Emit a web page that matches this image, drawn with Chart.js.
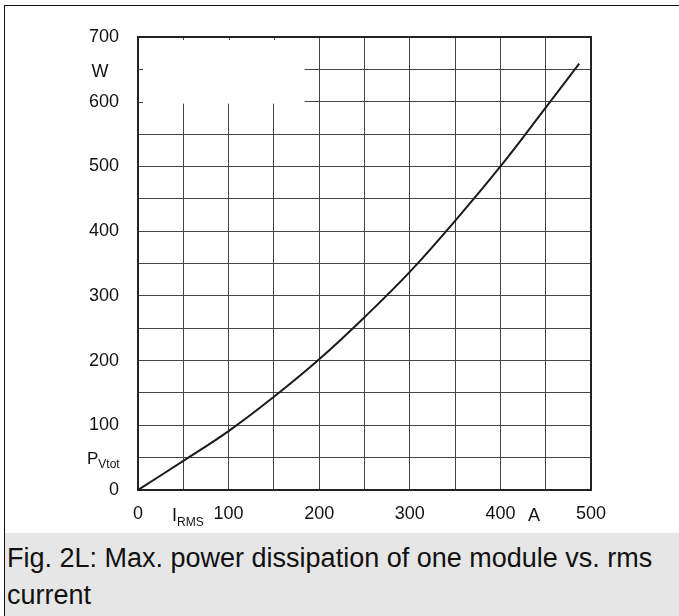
<!DOCTYPE html>
<html>
<head>
<meta charset="utf-8">
<script src="https://cdn.jsdelivr.net/npm/chart.js@4/dist/chart.umd.min.js"></script>
<style>
  html, body { margin: 0; padding: 0; background: #fff; }
  #wrap { position: relative; width: 679px; height: 616px; overflow: hidden; background: #fff; }
  #c { position: absolute; left: 0; top: 0; }
  #frameTop { position: absolute; left: 4px; top: 5px; width: 675px; height: 1px; background: #111; }
  #frameLeft { position: absolute; left: 4px; top: 5px; width: 1px; height: 611px; background: #111; }
  #caption { position: absolute; left: 5px; top: 533px; width: 674px; height: 83px; background: #e6e6e6;
    font-family: "Liberation Sans", Arial, sans-serif; font-size: 27px; line-height: 37px; color: #111;
    box-sizing: border-box; padding: 7px 0 0 2px; white-space: nowrap; }
</style>
</head>
<body>
<div id="wrap">
  <canvas id="c" width="679" height="616"></canvas>
  <div id="frameTop"></div>
  <div id="frameLeft"></div>
  <div id="caption">Fig. 2L: Max. power dissipation of one module vs. rms<br>current</div>
</div>
<script>
// ---- data ----
const currentA = [0, 50, 100, 150, 200, 250, 300, 350, 400, 450, 487];
const powerW   = [0, 45, 91, 144, 202, 267, 337, 416, 500, 591, 659];
const xTickLabels = [0, 100, 200, 300, 400, 500];
const yTickLabels = [0, 100, 200, 300, 400, 500, 600, 700];
const xName = ['I', 'RMS'];
const xUnit = 'A';
const yName = ['P', 'Vtot'];
const yUnit = 'W';

const FONT = '"Liberation Sans", Arial, sans-serif';
Chart.defaults.font.family = FONT;
Chart.defaults.font.size = 18;
Chart.defaults.color = '#111';

const decor = {
  id: 'decor',
  beforeDatasetsDraw(chart) {
    const { ctx, chartArea: a, scales: { x, y } } = chart;
    ctx.save();
    // blank box in the top-left corner of the plot
    const bx = x.getPixelForValue(184), by = y.getPixelForValue(597);
    ctx.fillStyle = '#fff';
    ctx.fillRect(a.left + 1, a.top + 1, bx - a.left - 1, by - a.top - 1);
    // small stubs left on the box's edges
    ctx.strokeStyle = '#444';
    ctx.lineWidth = 1;
    [650, 600].forEach(v => {
      const py = Math.round(y.getPixelForValue(v)) + 0.5;
      ctx.beginPath(); ctx.moveTo(a.left, py); ctx.lineTo(a.left + 5, py); ctx.stroke();
    });
    [50, 100, 150].forEach(v => {
      const px = Math.round(x.getPixelForValue(v)) + 0.5;
      ctx.beginPath(); ctx.moveTo(px, a.top); ctx.lineTo(px, a.top + 3); ctx.stroke();
    });
    // top and right frame of plot
    ctx.strokeStyle = '#222';
    ctx.lineWidth = 2;
    ctx.beginPath();
    ctx.moveTo(a.left, a.top); ctx.lineTo(a.right, a.top); ctx.lineTo(a.right, a.bottom);
    ctx.stroke();
    ctx.restore();
  },
  afterDraw(chart) {
    const { ctx, scales: { x, y } } = chart;
    ctx.save();
    ctx.fillStyle = '#111';
    ctx.textBaseline = 'alphabetic';
    // y unit
    ctx.font = '18px ' + FONT;
    ctx.textAlign = 'center';
    ctx.fillText(yUnit, 100, y.getPixelForValue(650) + 8);
    // y name with subscript
    ctx.textAlign = 'left';
    const pyBase = y.getPixelForValue(50) + 6;
    ctx.font = '17px ' + FONT;
    ctx.fillText(yName[0], 87, pyBase);
    const pw = ctx.measureText(yName[0]).width;
    ctx.font = '12px ' + FONT;
    ctx.fillText(yName[1], 87 + pw, pyBase + 4);
    // x name with subscript
    const xBase = 521;
    ctx.font = '18px ' + FONT;
    ctx.fillText(xName[0], 172, xBase);
    const iw = ctx.measureText(xName[0]).width;
    ctx.font = '12px ' + FONT;
    ctx.fillText(xName[1], 172 + iw, xBase + 5);
    // x unit
    ctx.font = '18px ' + FONT;
    ctx.textAlign = 'center';
    ctx.fillText(xUnit, 534, xBase);
    ctx.restore();
  }
};

new Chart(document.getElementById('c'), {
  type: 'line',
  data: {
    datasets: [{
      data: currentA.map((v, i) => ({ x: v, y: powerW[i] })),
      borderColor: '#1a1a1a',
      borderWidth: 2,
      pointRadius: 0,
      fill: false,
      tension: 0.4
    }]
  },
  options: {
    responsive: false,
    devicePixelRatio: 1,
    animation: false,
    events: [],
    layout: { padding: { left: 0, top: 37, right: 88, bottom: 0 } },
    plugins: { legend: { display: false }, tooltip: { enabled: false }, title: { display: false } },
    scales: {
      x: {
        type: 'linear', min: 0, max: 500,
        afterFit(s) { s.height = 126; },
        border: { display: true, color: '#222', width: 2 },
        grid: { color: '#444', lineWidth: 1, drawTicks: false },
        ticks: {
          stepSize: 50, autoSkip: false, maxRotation: 0, padding: 13,
          font: { size: 18 }, color: '#111',
          callback: v => xTickLabels.includes(v) ? String(v) : ''
        }
      },
      y: {
        type: 'linear', min: 0, max: 700,
        afterFit(s) { s.width = 138; },
        border: { display: true, color: '#222', width: 2 },
        grid: { color: '#444', lineWidth: 1, drawTicks: false },
        ticks: {
          stepSize: 50, autoSkip: false, padding: 19,
          font: { size: 18 }, color: '#111',
          callback: v => yTickLabels.includes(v) ? String(v) : ''
        }
      }
    }
  },
  plugins: [decor]
});
</script>
</body>
</html>
